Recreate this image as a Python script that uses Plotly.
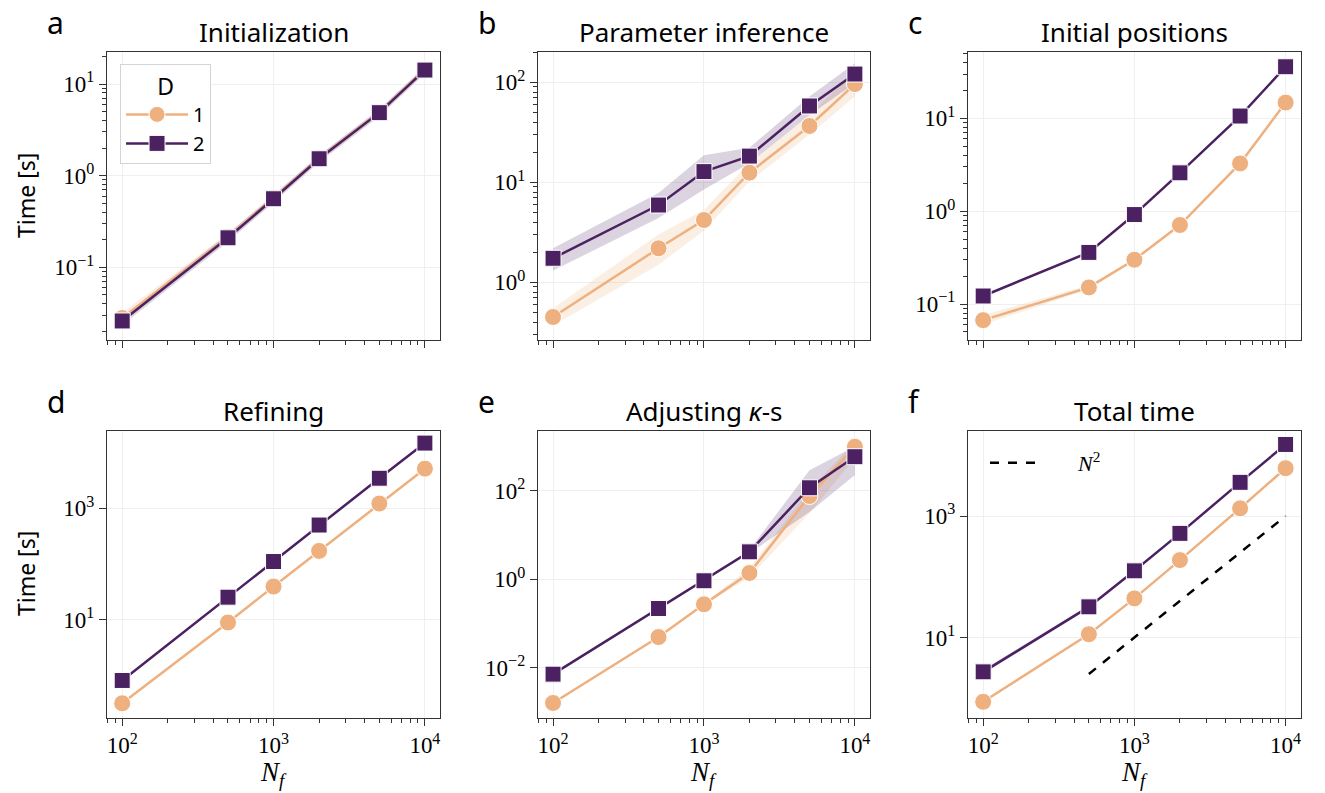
import plotly.graph_objects as go

# Number of fibres on the x axis
N_F = [100, 500, 1000, 2000, 5000, 10000]

# a  Initialization
INIT_D1 = [0.028, 0.215, 0.57, 1.55, 4.9, 14.3]
INIT_D1_LO = [0.025, 0.198, 0.53, 1.44, 4.55, 13.3]
INIT_D1_HI = [0.032, 0.235, 0.62, 1.67, 5.3, 15.4]
INIT_D2 = [0.026, 0.21, 0.56, 1.53, 4.87, 14.2]
INIT_D2_LO = [0.0235, 0.19, 0.51, 1.40, 4.45, 13.0]
INIT_D2_HI = [0.0288, 0.232, 0.61, 1.67, 5.3, 15.5]

# b  Parameter inference
PARAM_D1 = [0.45, 2.19, 4.2, 12.5, 36.6, 96]
PARAM_D1_LO = [0.37, 1.5, 3.3, 10.2, 30, 72]
PARAM_D1_HI = [0.55, 3.0, 5.3, 15.6, 47, 130]
PARAM_D2 = [1.74, 5.93, 12.8, 18.3, 58, 121]
PARAM_D2_LO = [1.31, 4.4, 8.5, 15.5, 47, 98]
PARAM_D2_HI = [2.19, 7.8, 18.7, 22.2, 72, 155]

# c  Initial positions
POS_D1 = [0.067, 0.151, 0.30, 0.71, 3.27, 14.8]
POS_D1_LO = [0.060, 0.144, 0.29, 0.69, 3.2, 14.5]
POS_D1_HI = [0.076, 0.159, 0.31, 0.73, 3.35, 15.1]
POS_D2 = [0.122, 0.36, 0.92, 2.59, 10.6, 36]
POS_D2_LO = [0.119, 0.35, 0.90, 2.54, 10.4, 35.3]
POS_D2_HI = [0.125, 0.37, 0.94, 2.64, 10.8, 36.7]

# d  Refining
REF_D1 = [0.32, 8.96, 39.5, 172, 1213, 5120]
REF_D1_LO = [0.31, 8.8, 38.8, 169, 1195, 5050]
REF_D1_HI = [0.33, 9.1, 40.2, 175, 1230, 5190]
REF_D2 = [0.82, 25.5, 111, 500, 3450, 14700]
REF_D2_LO = [0.80, 25.0, 109, 492, 3400, 14500]
REF_D2_HI = [0.84, 26.0, 113, 508, 3500, 14900]

# e  Adjusting kappa-s
KAPPA_D1 = [0.00158, 0.049, 0.27, 1.38, 76, 990]
KAPPA_D1_LO = [0.00150, 0.046, 0.255, 1.1, 31, 560]
KAPPA_D1_HI = [0.00166, 0.052, 0.285, 1.8, 105, 1250]
KAPPA_D2 = [0.0071, 0.217, 0.92, 4.15, 117, 590]
KAPPA_D2_LO = [0.0068, 0.208, 0.88, 3.8, 33, 227]
KAPPA_D2_HI = [0.0074, 0.226, 0.96, 4.6, 290, 1000]

# f  Total time
TOT_D1 = [0.87, 11.3, 44, 188, 1340, 6140]
TOT_D1_LO = [0.84, 11.0, 43, 184, 1315, 6040]
TOT_D1_HI = [0.90, 11.6, 45, 192, 1365, 6240]
TOT_D2 = [2.71, 31.9, 125, 518, 3590, 15100]
TOT_D2_LO = [2.5, 30.0, 122, 508, 3530, 14850]
TOT_D2_HI = [2.95, 33.8, 128, 528, 3650, 15350]

# N^2 reference line
N2_REF_X = [500, 1000, 2000, 5000, 10000]
N2_REF_Y = [2.5, 10, 40, 250, 1000]

PANEL_LETTERS = ["a", "b", "c", "d", "e", "f"]
PANEL_TITLES = ["Initialization", "Parameter inference", "Initial positions",
                "Refining", "Adjusting <i>κ</i>-s", "Total time"]
D_LABELS = ["1", "2"]
X_TICKS = [100, 1000, 10000]
X_TICK_TEXT = ["10<sup>2</sup>", "10<sup>3</sup>", "10<sup>4</sup>"]

COLOR_D1 = "#eeb07f"
COLOR_D2 = "#4b2161"
BAND_D1 = "rgba(238,176,127,0.22)"
BAND_D2 = "rgba(75,33,97,0.20)"

SERIES = [
    (INIT_D1, INIT_D1_LO, INIT_D1_HI, INIT_D2, INIT_D2_LO, INIT_D2_HI),
    (PARAM_D1, PARAM_D1_LO, PARAM_D1_HI, PARAM_D2, PARAM_D2_LO, PARAM_D2_HI),
    (POS_D1, POS_D1_LO, POS_D1_HI, POS_D2, POS_D2_LO, POS_D2_HI),
    (REF_D1, REF_D1_LO, REF_D1_HI, REF_D2, REF_D2_LO, REF_D2_HI),
    (KAPPA_D1, KAPPA_D1_LO, KAPPA_D1_HI, KAPPA_D2, KAPPA_D2_LO, KAPPA_D2_HI),
    (TOT_D1, TOT_D1_LO, TOT_D1_HI, TOT_D2, TOT_D2_LO, TOT_D2_HI),
]

# y-axis ranges (log10) and major ticks per panel
Y_RANGES = [[-1.793, 1.349], [-0.577, 2.303], [-1.388, 1.715],
            [-0.75, 4.39], [-3.13, 3.36], [-0.319, 4.406]]
Y_TICK_EXP = [[-1, 0, 1], [0, 1, 2], [-1, 0, 1], [1, 3], [-2, 0, 2], [1, 3]]
Y_MINOR = [True, True, True, False, False, False]

COL_DOMAINS = [[0.0808, 0.3321], [0.4060, 0.6566], [0.7306, 0.9817]]
ROW_DOMAINS = [[0.5712, 0.9344], [0.0952, 0.4569]]

SERIF = "Liberation Serif"
SANS = "Noto Sans"
AX_COLOR = "#333333"
GRID = "#efefef"


def sup(e):
    s = str(e).replace("-", "−")
    return f"10<sup>{s}</sup>"


def minor_vals(lo_exp, hi_exp):
    vals = []
    for k in range(lo_exp, hi_exp + 1):
        for m in range(2, 10):
            vals.append(m * 10 ** k)
    return vals


fig = go.Figure()

for i, (d1, d1lo, d1hi, d2, d2lo, d2hi) in enumerate(SERIES):
    xa = "x" if i == 0 else f"x{i + 1}"
    ya = "y" if i == 0 else f"y{i + 1}"
    # confidence bands
    for lo, hi, band in ((d1lo, d1hi, BAND_D1), (d2lo, d2hi, BAND_D2)):
        fig.add_trace(go.Scatter(x=N_F, y=lo, mode="lines", line=dict(width=0),
                                 xaxis=xa, yaxis=ya, showlegend=False, hoverinfo="skip"))
        fig.add_trace(go.Scatter(x=N_F, y=hi, mode="lines", line=dict(width=0),
                                 fill="tonexty", fillcolor=band,
                                 xaxis=xa, yaxis=ya, showlegend=False, hoverinfo="skip"))
    # mean lines
    fig.add_trace(go.Scatter(
        x=N_F, y=d1, mode="lines+markers", name=D_LABELS[0], legendgroup="D1",
        line=dict(color=COLOR_D1, width=2.5),
        marker=dict(symbol="circle", size=17, color=COLOR_D1, line=dict(color="white", width=1)),
        xaxis=xa, yaxis=ya, showlegend=(i == 0), legend="legend"))
    fig.add_trace(go.Scatter(
        x=N_F, y=d2, mode="lines+markers", name=D_LABELS[1], legendgroup="D2",
        line=dict(color=COLOR_D2, width=2.5),
        marker=dict(symbol="square", size=16, color=COLOR_D2, line=dict(color="white", width=1)),
        xaxis=xa, yaxis=ya, showlegend=(i == 0), legend="legend"))

# N^2 scaling guide in the total-time panel
fig.add_trace(go.Scatter(
    x=N2_REF_X, y=N2_REF_Y, mode="lines",
    name="\u00a0\u00a0\u00a0\u00a0\u00a0\u00a0<i>N</i><sup>2</sup>",
    line=dict(color="black", width=2.5, dash="dash"),
    xaxis="x6", yaxis="y6", legend="legend2", showlegend=True))

layout = dict(
    width=1325, height=793,
    margin=dict(l=0, r=0, t=0, b=0),
    paper_bgcolor="white", plot_bgcolor="white",
    showlegend=True,
    legend=dict(
        x=0.0906, y=0.9193, xanchor="left", yanchor="top",
        bordercolor="#d4d4d4", borderwidth=1, bgcolor="rgba(255,255,255,0.85)",
        font=dict(family=SANS, size=20, color="black"),
        title=dict(text="D", side="top center", font=dict(family=SANS, size=23, color="black")),
        traceorder="normal", itemwidth=62, tracegroupgap=10,
    ),
    legend2=dict(
        x=985 / 1325, y=1 - 442 / 793, xanchor="left", yanchor="top",
        bgcolor="rgba(0,0,0,0)", borderwidth=0,
        font=dict(family=SERIF, size=22, color="black"),
        itemwidth=50,
    ),
    annotations=[],
)

for i in range(6):
    row, col = divmod(i, 3)
    xkey = "xaxis" if i == 0 else f"xaxis{i + 1}"
    ykey = "yaxis" if i == 0 else f"yaxis{i + 1}"
    xname = "x" if i == 0 else f"x{i + 1}"
    yname = "y" if i == 0 else f"y{i + 1}"
    bottom = row == 1
    layout[xkey] = dict(
        type="log", domain=COL_DOMAINS[col], anchor=yname, range=[1.9, 4.1],
        tickmode="array", tickvals=X_TICKS, ticktext=X_TICK_TEXT,
        showticklabels=bottom,
        tickfont=dict(family=SERIF, size=23, color="black"),
        ticks="outside", ticklen=7, tickwidth=1.2, tickcolor=AX_COLOR,
        showline=True, linecolor=AX_COLOR, linewidth=1.3, mirror=True,
        showgrid=True, gridcolor=GRID, gridwidth=1, zeroline=False,
        minor=dict(tickmode="array", tickvals=minor_vals(1, 3), ticks="outside",
                   ticklen=4, tickwidth=1, tickcolor=AX_COLOR, showgrid=False),
    )
    exps = Y_TICK_EXP[i]
    ycfg = dict(
        type="log", domain=ROW_DOMAINS[row], anchor=xname, range=Y_RANGES[i],
        tickmode="array", tickvals=[10 ** e for e in exps], ticktext=[sup(e) for e in exps],
        tickfont=dict(family=SERIF, size=23, color="black"),
        ticks="outside", ticklen=7, tickwidth=1.2, tickcolor=AX_COLOR,
        showline=True, linecolor=AX_COLOR, linewidth=1.3, mirror=True,
        showgrid=True, gridcolor=GRID, gridwidth=1, zeroline=False,
    )
    if Y_MINOR[i]:
        ycfg["minor"] = dict(tickmode="array", tickvals=minor_vals(-4, 4), ticks="outside",
                             ticklen=4, tickwidth=1, tickcolor=AX_COLOR, showgrid=False)
    layout[ykey] = ycfg

    # panel title
    layout["annotations"].append(dict(
        text=PANEL_TITLES[i], xref=f"{xname} domain", yref=f"{yname} domain",
        x=0.5, y=1, xanchor="center", yanchor="bottom", yshift=0, showarrow=False,
        font=dict(family=SANS, size=26, color="black")))
    # panel letter
    layout["annotations"].append(dict(
        text=PANEL_LETTERS[i], xref="paper", yref="paper",
        x=(COL_DOMAINS[col][0] * 1325 - 62) / 1325,
        y=[0.972, 0.494][row], xanchor="left", yanchor="middle", showarrow=False,
        font=dict(family=SANS, size=30, color="black")))
    if col == 0:
        layout["annotations"].append(dict(
            text="Time [s]", xref="paper", yref=f"{yname} domain",
            x=26 / 1325, y=0.5, xanchor="center", yanchor="middle", textangle=-90,
            showarrow=False, font=dict(family=SANS, size=23, color="black")))
    if bottom:
        layout["annotations"].append(dict(
            text="<i>N</i><sub><i>f</i></sub>", xref=f"{xname} domain", yref="paper",
            x=0.5, y=1 - 774 / 793, xanchor="center", yanchor="middle", showarrow=False,
            font=dict(family=SERIF, size=27, color="black")))

fig.update_layout(**layout)
fig.write_html("out.html")
